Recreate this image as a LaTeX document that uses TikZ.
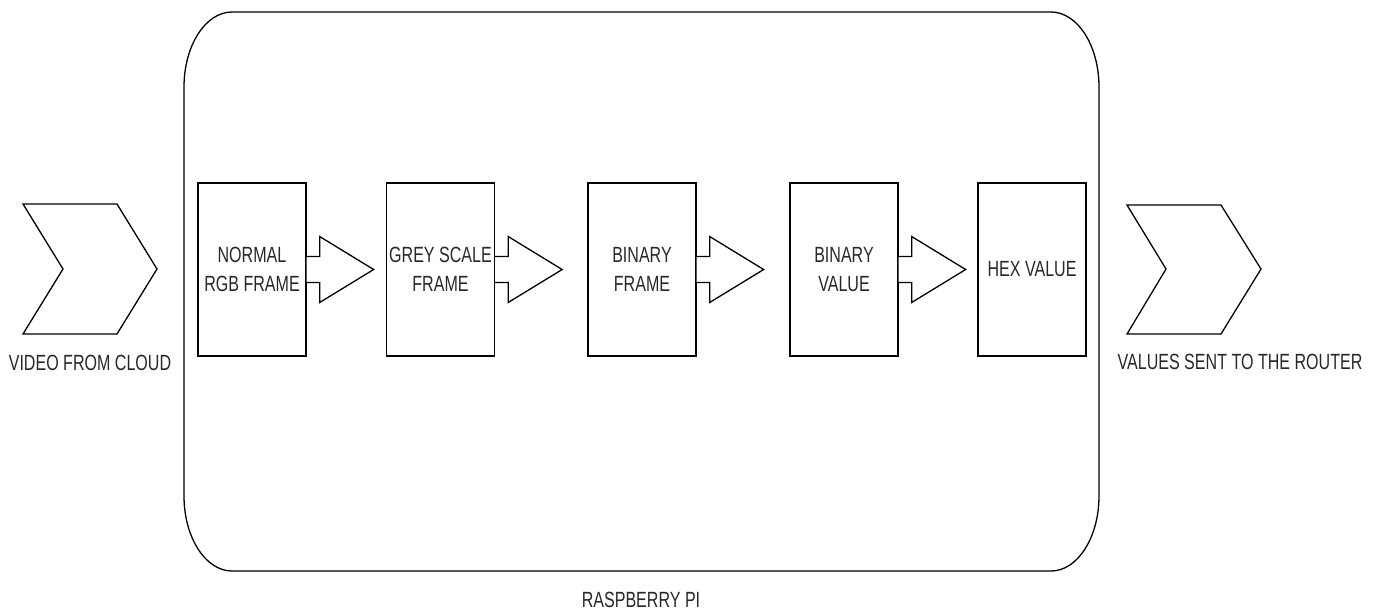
\documentclass[tikz,border=0pt]{standalone}
\usepackage{fontspec}
\setmainfont{Liberation Sans}[FakeStretch=0.73]
\definecolor{txt}{RGB}{40,40,40}
\begin{document}
\begin{tikzpicture}[x=1pt,y=-1pt,
  line width=1.3pt, line join=miter,
  lbl/.style={font=\fontsize{22}{29}\selectfont, text=txt, align=center, inner sep=0pt},
  stage/.style={draw, minimum width=108pt, minimum height=173pt, inner sep=0pt,
    font=\fontsize{22}{29}\selectfont, text=txt, align=center},
  blockarrow/.style={draw, fill=white}]
\useasboundingbox (0,0) rectangle (1381,611);

% Raspberry Pi container
\draw (232,12) -- (1051,12)
  .. controls (1077.5,12) and (1099,45.6) .. (1099,87)
  -- (1099,496)
  .. controls (1099,537.4) and (1077.5,571) .. (1051,571)
  -- (232,571)
  .. controls (205.5,571) and (184,537.4) .. (184,496)
  -- (184,87)
  .. controls (184,45.6) and (205.5,12) .. (232,12) -- cycle;
\node[lbl] (rpi) at (641,600) {RASPBERRY PI};

% input chevron
\draw (23,204) -- (117,204) -- (157,269) -- (117,334) -- (23,334) -- (63,269) -- cycle;
\node[lbl] (vin) at (90,363) {VIDEO FROM CLOUD};

% output chevron
\draw (1127,205) -- (1221,205) -- (1261,269) -- (1221,334) -- (1127,334) -- (1166,269) -- cycle;
\node[lbl] (vout) at (1240,362) {VALUES SENT TO THE ROUTER};

% stages
\node[stage] (b1) at (252,269.5) {NORMAL\\RGB FRAME};
\node[stage] (b2) at (440.5,269.5) {GREY SCALE\\FRAME};
\node[stage] (b3) at (642,269.5) {BINARY\\FRAME};
\node[stage] (b4) at (844,269.5) {BINARY\\VALUE};
\node[stage] (b5) at (1032,269.5) {HEX VALUE};

% block arrows between stages
\foreach \s in {b1,b2,b3,b4}{
  \draw[blockarrow] (\s.east) ++(0,-13) -- ++(13,0) -- ++(0,-20) -- ++(54,33)
    -- ++(-54,33) -- ++(0,-20) -- ++(-13,0);
}
\end{tikzpicture}
\end{document}
